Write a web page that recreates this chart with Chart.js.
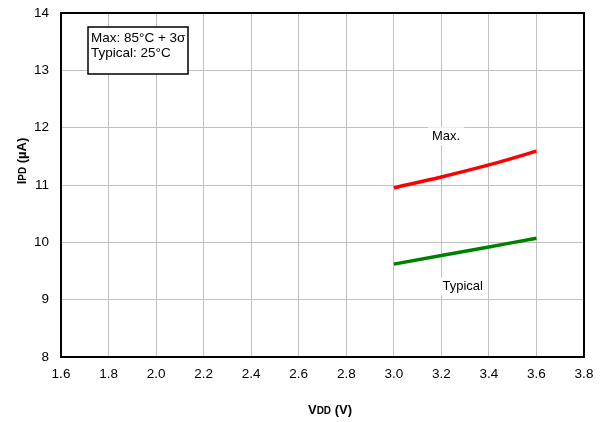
<!DOCTYPE html>
<html>
<head>
<meta charset="utf-8">
<script src="https://cdn.jsdelivr.net/npm/chart.js@4"></script>
<style>
  html, body { margin: 0; padding: 0; background: #fff; }
  #wrap { width: 603px; height: 422px; }
</style>
</head>
<body>
<div id="wrap"><canvas id="chart" width="603" height="422"></canvas></div>
<script>
// --- DATA ---
const vdd = [3.0, 3.2, 3.4, 3.6];
const maxIpd = [10.95, 11.14, 11.35, 11.59];
const typIpd = [9.62, 9.77, 9.92, 10.07];
const xTicks = [1.6, 1.8, 2.0, 2.2, 2.4, 2.6, 2.8, 3.0, 3.2, 3.4, 3.6, 3.8];
const yTicks = [8, 9, 10, 11, 12, 13, 14];
const legendLines = ["Max: 85°C + 3σ", "Typical: 25°C"];

const FONT = "'Liberation Sans', Arial, sans-serif";

// draws the frame, axis titles (with small subscripts), the note box and the series labels
const annotations = {
  id: "annotations",
  afterDraw(chart) {
    const { ctx, scales, chartArea } = chart;
    const x = scales.x, y = scales.y;
    ctx.save();

    // plot frame
    ctx.strokeStyle = "#000";
    ctx.lineWidth = 2;
    ctx.strokeRect(chartArea.left, chartArea.top, chartArea.right - chartArea.left, chartArea.bottom - chartArea.top);

    ctx.fillStyle = "#000";
    ctx.textBaseline = "middle";

    const drawSub = (cx, cy, main, sub, rest) => {
      ctx.font = "bold 13px " + FONT;
      const w1 = ctx.measureText(main).width;
      ctx.font = "bold 10px " + FONT;
      const w2 = ctx.measureText(sub).width;
      ctx.font = "bold 13px " + FONT;
      const w3 = ctx.measureText(rest).width;
      let sx = cx - (w1 + w2 + w3) / 2;
      ctx.textAlign = "left";
      ctx.fillText(main, sx, cy);
      ctx.font = "bold 10px " + FONT;
      ctx.fillText(sub, sx + w1, cy + 1);
      ctx.font = "bold 13px " + FONT;
      ctx.fillText(rest, sx + w1 + w2, cy);
    };
    drawSub(330, 410, "V", "DD", " (V)");

    ctx.save();
    ctx.translate(22, 161);
    ctx.rotate(-Math.PI / 2);
    drawSub(0, 0, "I", "PD", " (µA)");
    ctx.restore();

    // note box
    ctx.fillStyle = "#fff";
    ctx.fillRect(88, 27, 100, 47);
    ctx.strokeStyle = "#000";
    ctx.lineWidth = 1.5;
    ctx.strokeRect(88, 27, 100, 47);
    ctx.fillStyle = "#000";
    ctx.font = "13.5px " + FONT;
    ctx.textAlign = "left";
    ctx.fillText(legendLines[0], 91, 38);
    ctx.fillText(legendLines[1], 91, 53);

    // series labels
    const label = (text, vx, vy) => {
      ctx.font = "13px " + FONT;
      const w = ctx.measureText(text).width;
      const px = x.getPixelForValue(vx), py = y.getPixelForValue(vy);
      ctx.fillStyle = "#fff";
      ctx.fillRect(px - w / 2 - 4, py - 9, w + 8, 18);
      ctx.fillStyle = "#000";
      ctx.textAlign = "center";
      ctx.fillText(text, px, py);
    };
    label("Max.", 3.22, 11.85);
    label("Typical", 3.29, 9.23);
    ctx.restore();
  }
};

const ctx = document.getElementById("chart").getContext("2d");
new Chart(ctx, {
  type: "line",
  data: {
    datasets: [
      {
        label: "Max.",
        data: vdd.map((v, i) => ({ x: v, y: maxIpd[i] })),
        borderColor: "#ff0000",
        borderWidth: 3.5,
        pointRadius: 0,
        cubicInterpolationMode: "monotone",
      },
      {
        label: "Typical",
        data: vdd.map((v, i) => ({ x: v, y: typIpd[i] })),
        borderColor: "#008000",
        borderWidth: 3.5,
        pointRadius: 0,
        cubicInterpolationMode: "monotone",
      },
    ],
  },
  options: {
    responsive: false,
    animation: false,
    layout: { padding: { top: 13, right: 19, left: 0, bottom: 0 } },
    scales: {
      x: {
        type: "linear",
        min: 1.6,
        max: 3.8,
        afterBuildTicks: (s) => { s.ticks = xTicks.map((v) => ({ value: v })); },
        afterFit: (s) => { s.height = 65; },
        grid: { color: "#c0c0c0", lineWidth: 1, drawTicks: false },
        border: { color: "#000", width: 2 },
        ticks: {
          color: "#000",
          font: { family: FONT, size: 13.5 },
          padding: 9,
          maxRotation: 0,
          callback: (v) => v.toFixed(1),
        },
      },
      y: {
        min: 8,
        max: 14,
        afterBuildTicks: (s) => { s.ticks = yTicks.map((v) => ({ value: v })); },
        afterFit: (s) => { s.width = 61; s.paddingTop = 0; s.paddingBottom = 0; },
        grid: { color: "#c0c0c0", lineWidth: 1, drawTicks: false },
        border: { color: "#000", width: 2 },
        ticks: {
          color: "#000",
          font: { family: FONT, size: 13.5 },
          padding: 12,
        },
      },
    },
    plugins: {
      legend: { display: false },
      tooltip: { enabled: false },
    },
  },
  plugins: [annotations],
});
</script>
</body>
</html>
